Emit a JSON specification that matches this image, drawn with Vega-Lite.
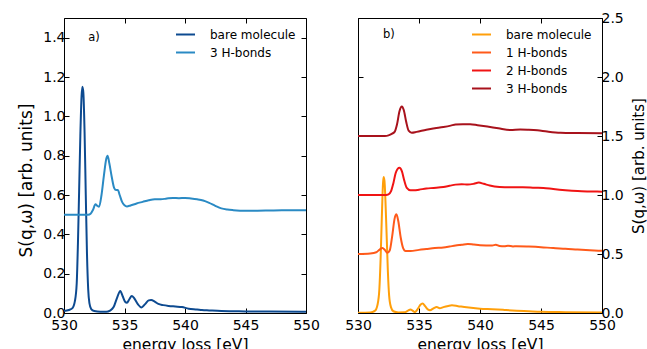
{
  "$schema": "https://vega.github.io/schema/vega-lite/v6.json",
  "padding": {"left": 17, "top": 10, "right": 5, "bottom": 0},
  "config": {
    "font": "DejaVu Sans",
    "view": {"stroke": "black", "strokeWidth": 1},
    "axis": {"domain": false, "grid": false, "tickColor": "black", "tickSize": -5, "tickWidth": 1,
      "labelColor": "black", "labelFontSize": 14, "labelFont": "DejaVu Sans", "labelFlush": false, "labelOverlap": false, "labelPadding": 4,
      "titleFontSize": 15.5, "titleFontWeight": "normal", "titleColor": "black", "titleFont": "DejaVu Sans"},
    "axisX": {"labelPadding": 10},
    "legend": {"orient": "none", "labelFontSize": 12, "labelFont": "DejaVu Sans", "labelColor": "black", "symbolType": "stroke", "symbolStrokeWidth": 2, "symbolSize": 361, "padding": 0, "rowPadding": 1, "labelOffset": 14, "title": null}
  },
  "datasets": {
    "a": [
      {"e": 530.0, "s": 0.01, "series": "bare molecule"},
      {"e": 530.4, "s": 0.015, "series": "bare molecule"},
      {"e": 530.7, "s": 0.025, "series": "bare molecule"},
      {"e": 530.9, "s": 0.06, "series": "bare molecule"},
      {"e": 531.05, "s": 0.15, "series": "bare molecule"},
      {"e": 531.15, "s": 0.35, "series": "bare molecule"},
      {"e": 531.25, "s": 0.62, "series": "bare molecule"},
      {"e": 531.35, "s": 0.9, "series": "bare molecule"},
      {"e": 531.45, "s": 1.1, "series": "bare molecule"},
      {"e": 531.52, "s": 1.15, "series": "bare molecule"},
      {"e": 531.6, "s": 1.12, "series": "bare molecule"},
      {"e": 531.7, "s": 0.92, "series": "bare molecule"},
      {"e": 531.8, "s": 0.6, "series": "bare molecule"},
      {"e": 531.9, "s": 0.3, "series": "bare molecule"},
      {"e": 532.0, "s": 0.12, "series": "bare molecule"},
      {"e": 532.1, "s": 0.05, "series": "bare molecule"},
      {"e": 532.25, "s": 0.02, "series": "bare molecule"},
      {"e": 532.5, "s": 0.01, "series": "bare molecule"},
      {"e": 533.0, "s": 0.006, "series": "bare molecule"},
      {"e": 533.5, "s": 0.006, "series": "bare molecule"},
      {"e": 533.8, "s": 0.012, "series": "bare molecule"},
      {"e": 534.1, "s": 0.03, "series": "bare molecule"},
      {"e": 534.4, "s": 0.08, "series": "bare molecule"},
      {"e": 534.65, "s": 0.112, "series": "bare molecule"},
      {"e": 534.85, "s": 0.085, "series": "bare molecule"},
      {"e": 535.05, "s": 0.057, "series": "bare molecule"},
      {"e": 535.2, "s": 0.052, "series": "bare molecule"},
      {"e": 535.4, "s": 0.07, "series": "bare molecule"},
      {"e": 535.6, "s": 0.086, "series": "bare molecule"},
      {"e": 535.8, "s": 0.075, "series": "bare molecule"},
      {"e": 536.1, "s": 0.045, "series": "bare molecule"},
      {"e": 536.4, "s": 0.028, "series": "bare molecule"},
      {"e": 536.7, "s": 0.045, "series": "bare molecule"},
      {"e": 537.0, "s": 0.064, "series": "bare molecule"},
      {"e": 537.2, "s": 0.066, "series": "bare molecule"},
      {"e": 537.5, "s": 0.058, "series": "bare molecule"},
      {"e": 537.8, "s": 0.046, "series": "bare molecule"},
      {"e": 538.2, "s": 0.04, "series": "bare molecule"},
      {"e": 538.65, "s": 0.036, "series": "bare molecule"},
      {"e": 539.2, "s": 0.033, "series": "bare molecule"},
      {"e": 539.75, "s": 0.03, "series": "bare molecule"},
      {"e": 540.3, "s": 0.022, "series": "bare molecule"},
      {"e": 541.0, "s": 0.018, "series": "bare molecule"},
      {"e": 541.4, "s": 0.015, "series": "bare molecule"},
      {"e": 542.0, "s": 0.013, "series": "bare molecule"},
      {"e": 543.0, "s": 0.01, "series": "bare molecule"},
      {"e": 544.0, "s": 0.009, "series": "bare molecule"},
      {"e": 545.0, "s": 0.008, "series": "bare molecule"},
      {"e": 547.0, "s": 0.007, "series": "bare molecule"},
      {"e": 550.0, "s": 0.006, "series": "bare molecule"},
      {"e": 530.0, "s": 0.5, "series": "3 H-bonds"},
      {"e": 531.0, "s": 0.5, "series": "3 H-bonds"},
      {"e": 532.0, "s": 0.5, "series": "3 H-bonds"},
      {"e": 532.2, "s": 0.505, "series": "3 H-bonds"},
      {"e": 532.4, "s": 0.525, "series": "3 H-bonds"},
      {"e": 532.6, "s": 0.553, "series": "3 H-bonds"},
      {"e": 532.75, "s": 0.545, "series": "3 H-bonds"},
      {"e": 532.9, "s": 0.54, "series": "3 H-bonds"},
      {"e": 533.1, "s": 0.6, "series": "3 H-bonds"},
      {"e": 533.3, "s": 0.7, "series": "3 H-bonds"},
      {"e": 533.5, "s": 0.785, "series": "3 H-bonds"},
      {"e": 533.6, "s": 0.8, "series": "3 H-bonds"},
      {"e": 533.75, "s": 0.76, "series": "3 H-bonds"},
      {"e": 533.95, "s": 0.69, "series": "3 H-bonds"},
      {"e": 534.15, "s": 0.635, "series": "3 H-bonds"},
      {"e": 534.3, "s": 0.625, "series": "3 H-bonds"},
      {"e": 534.45, "s": 0.625, "series": "3 H-bonds"},
      {"e": 534.6, "s": 0.6, "series": "3 H-bonds"},
      {"e": 534.8, "s": 0.565, "series": "3 H-bonds"},
      {"e": 535.0, "s": 0.548, "series": "3 H-bonds"},
      {"e": 535.2, "s": 0.542, "series": "3 H-bonds"},
      {"e": 535.5, "s": 0.547, "series": "3 H-bonds"},
      {"e": 536.0, "s": 0.557, "series": "3 H-bonds"},
      {"e": 536.5, "s": 0.565, "series": "3 H-bonds"},
      {"e": 537.0, "s": 0.573, "series": "3 H-bonds"},
      {"e": 537.5, "s": 0.578, "series": "3 H-bonds"},
      {"e": 538.0, "s": 0.578, "series": "3 H-bonds"},
      {"e": 538.5, "s": 0.582, "series": "3 H-bonds"},
      {"e": 539.0, "s": 0.585, "series": "3 H-bonds"},
      {"e": 539.5, "s": 0.584, "series": "3 H-bonds"},
      {"e": 540.0, "s": 0.585, "series": "3 H-bonds"},
      {"e": 540.5, "s": 0.582, "series": "3 H-bonds"},
      {"e": 541.0, "s": 0.578, "series": "3 H-bonds"},
      {"e": 541.5, "s": 0.572, "series": "3 H-bonds"},
      {"e": 542.0, "s": 0.56, "series": "3 H-bonds"},
      {"e": 542.5, "s": 0.545, "series": "3 H-bonds"},
      {"e": 543.0, "s": 0.532, "series": "3 H-bonds"},
      {"e": 543.5, "s": 0.526, "series": "3 H-bonds"},
      {"e": 544.0, "s": 0.523, "series": "3 H-bonds"},
      {"e": 545.0, "s": 0.52, "series": "3 H-bonds"},
      {"e": 546.0, "s": 0.52, "series": "3 H-bonds"},
      {"e": 547.0, "s": 0.521, "series": "3 H-bonds"},
      {"e": 548.0, "s": 0.522, "series": "3 H-bonds"},
      {"e": 550.0, "s": 0.522, "series": "3 H-bonds"}
    ],
    "b": [
      {"e": 530.0, "s": 0.003, "series": "bare molecule"},
      {"e": 531.0, "s": 0.005, "series": "bare molecule"},
      {"e": 531.4, "s": 0.02, "series": "bare molecule"},
      {"e": 531.6, "s": 0.07, "series": "bare molecule"},
      {"e": 531.75, "s": 0.2, "series": "bare molecule"},
      {"e": 531.85, "s": 0.45, "series": "bare molecule"},
      {"e": 531.95, "s": 0.8, "series": "bare molecule"},
      {"e": 532.05, "s": 1.1, "series": "bare molecule"},
      {"e": 532.1, "s": 1.153, "series": "bare molecule"},
      {"e": 532.17, "s": 1.12, "series": "bare molecule"},
      {"e": 532.25, "s": 0.95, "series": "bare molecule"},
      {"e": 532.35, "s": 0.65, "series": "bare molecule"},
      {"e": 532.45, "s": 0.35, "series": "bare molecule"},
      {"e": 532.55, "s": 0.15, "series": "bare molecule"},
      {"e": 532.7, "s": 0.05, "series": "bare molecule"},
      {"e": 532.9, "s": 0.015, "series": "bare molecule"},
      {"e": 533.3, "s": 0.005, "series": "bare molecule"},
      {"e": 533.8, "s": 0.006, "series": "bare molecule"},
      {"e": 534.1, "s": 0.02, "series": "bare molecule"},
      {"e": 534.3, "s": 0.03, "series": "bare molecule"},
      {"e": 534.5, "s": 0.018, "series": "bare molecule"},
      {"e": 534.67, "s": 0.008, "series": "bare molecule"},
      {"e": 534.9, "s": 0.035, "series": "bare molecule"},
      {"e": 535.1, "s": 0.068, "series": "bare molecule"},
      {"e": 535.3, "s": 0.08, "series": "bare molecule"},
      {"e": 535.5, "s": 0.058, "series": "bare molecule"},
      {"e": 535.75, "s": 0.028, "series": "bare molecule"},
      {"e": 535.9, "s": 0.023, "series": "bare molecule"},
      {"e": 536.2, "s": 0.04, "series": "bare molecule"},
      {"e": 536.45, "s": 0.05, "series": "bare molecule"},
      {"e": 536.7, "s": 0.04, "series": "bare molecule"},
      {"e": 537.0, "s": 0.05, "series": "bare molecule"},
      {"e": 537.4, "s": 0.06, "series": "bare molecule"},
      {"e": 537.7, "s": 0.065, "series": "bare molecule"},
      {"e": 538.2, "s": 0.058, "series": "bare molecule"},
      {"e": 538.9, "s": 0.048, "series": "bare molecule"},
      {"e": 540.0, "s": 0.037, "series": "bare molecule"},
      {"e": 541.0, "s": 0.032, "series": "bare molecule"},
      {"e": 542.0, "s": 0.026, "series": "bare molecule"},
      {"e": 543.0, "s": 0.02, "series": "bare molecule"},
      {"e": 544.0, "s": 0.015, "series": "bare molecule"},
      {"e": 545.0, "s": 0.01, "series": "bare molecule"},
      {"e": 547.0, "s": 0.007, "series": "bare molecule"},
      {"e": 550.0, "s": 0.004, "series": "bare molecule"},
      {"e": 530.0, "s": 0.5, "series": "1 H-bonds"},
      {"e": 531.0, "s": 0.505, "series": "1 H-bonds"},
      {"e": 531.5, "s": 0.515, "series": "1 H-bonds"},
      {"e": 531.8, "s": 0.54, "series": "1 H-bonds"},
      {"e": 532.0, "s": 0.55, "series": "1 H-bonds"},
      {"e": 532.2, "s": 0.535, "series": "1 H-bonds"},
      {"e": 532.4, "s": 0.51, "series": "1 H-bonds"},
      {"e": 532.6, "s": 0.53, "series": "1 H-bonds"},
      {"e": 532.8, "s": 0.65, "series": "1 H-bonds"},
      {"e": 533.0, "s": 0.8, "series": "1 H-bonds"},
      {"e": 533.15, "s": 0.836, "series": "1 H-bonds"},
      {"e": 533.3, "s": 0.78, "series": "1 H-bonds"},
      {"e": 533.5, "s": 0.64, "series": "1 H-bonds"},
      {"e": 533.7, "s": 0.55, "series": "1 H-bonds"},
      {"e": 533.9, "s": 0.525, "series": "1 H-bonds"},
      {"e": 534.3, "s": 0.525, "series": "1 H-bonds"},
      {"e": 535.0, "s": 0.535, "series": "1 H-bonds"},
      {"e": 535.6, "s": 0.542, "series": "1 H-bonds"},
      {"e": 536.3, "s": 0.55, "series": "1 H-bonds"},
      {"e": 537.0, "s": 0.555, "series": "1 H-bonds"},
      {"e": 537.5, "s": 0.563, "series": "1 H-bonds"},
      {"e": 538.0, "s": 0.572, "series": "1 H-bonds"},
      {"e": 538.5, "s": 0.578, "series": "1 H-bonds"},
      {"e": 539.0, "s": 0.585, "series": "1 H-bonds"},
      {"e": 539.5, "s": 0.58, "series": "1 H-bonds"},
      {"e": 540.0, "s": 0.575, "series": "1 H-bonds"},
      {"e": 541.0, "s": 0.572, "series": "1 H-bonds"},
      {"e": 541.3, "s": 0.578, "series": "1 H-bonds"},
      {"e": 541.6, "s": 0.568, "series": "1 H-bonds"},
      {"e": 542.0, "s": 0.566, "series": "1 H-bonds"},
      {"e": 542.3, "s": 0.57, "series": "1 H-bonds"},
      {"e": 542.7, "s": 0.564, "series": "1 H-bonds"},
      {"e": 543.0, "s": 0.566, "series": "1 H-bonds"},
      {"e": 544.0, "s": 0.563, "series": "1 H-bonds"},
      {"e": 545.0, "s": 0.558, "series": "1 H-bonds"},
      {"e": 546.0, "s": 0.55, "series": "1 H-bonds"},
      {"e": 547.0, "s": 0.545, "series": "1 H-bonds"},
      {"e": 548.0, "s": 0.538, "series": "1 H-bonds"},
      {"e": 549.0, "s": 0.532, "series": "1 H-bonds"},
      {"e": 550.0, "s": 0.527, "series": "1 H-bonds"},
      {"e": 530.0, "s": 1.0, "series": "2 H-bonds"},
      {"e": 532.3, "s": 1.0, "series": "2 H-bonds"},
      {"e": 532.5, "s": 1.005, "series": "2 H-bonds"},
      {"e": 532.7, "s": 1.03, "series": "2 H-bonds"},
      {"e": 532.9, "s": 1.1, "series": "2 H-bonds"},
      {"e": 533.1, "s": 1.19, "series": "2 H-bonds"},
      {"e": 533.4, "s": 1.23, "series": "2 H-bonds"},
      {"e": 533.6, "s": 1.2, "series": "2 H-bonds"},
      {"e": 533.8, "s": 1.12, "series": "2 H-bonds"},
      {"e": 534.0, "s": 1.06, "series": "2 H-bonds"},
      {"e": 534.3, "s": 1.04, "series": "2 H-bonds"},
      {"e": 534.6, "s": 1.04, "series": "2 H-bonds"},
      {"e": 535.0, "s": 1.045, "series": "2 H-bonds"},
      {"e": 535.6, "s": 1.055, "series": "2 H-bonds"},
      {"e": 536.2, "s": 1.06, "series": "2 H-bonds"},
      {"e": 537.0, "s": 1.068, "series": "2 H-bonds"},
      {"e": 537.5, "s": 1.078, "series": "2 H-bonds"},
      {"e": 538.0, "s": 1.088, "series": "2 H-bonds"},
      {"e": 538.5, "s": 1.092, "series": "2 H-bonds"},
      {"e": 539.0, "s": 1.088, "series": "2 H-bonds"},
      {"e": 539.5, "s": 1.095, "series": "2 H-bonds"},
      {"e": 539.9, "s": 1.105, "series": "2 H-bonds"},
      {"e": 540.3, "s": 1.095, "series": "2 H-bonds"},
      {"e": 540.8, "s": 1.08, "series": "2 H-bonds"},
      {"e": 541.6, "s": 1.068, "series": "2 H-bonds"},
      {"e": 542.5, "s": 1.065, "series": "2 H-bonds"},
      {"e": 543.5, "s": 1.066, "series": "2 H-bonds"},
      {"e": 544.5, "s": 1.062, "series": "2 H-bonds"},
      {"e": 545.2, "s": 1.06, "series": "2 H-bonds"},
      {"e": 546.0, "s": 1.05, "series": "2 H-bonds"},
      {"e": 547.0, "s": 1.04, "series": "2 H-bonds"},
      {"e": 548.0, "s": 1.033, "series": "2 H-bonds"},
      {"e": 549.0, "s": 1.03, "series": "2 H-bonds"},
      {"e": 550.0, "s": 1.028, "series": "2 H-bonds"},
      {"e": 530.0, "s": 1.5, "series": "3 H-bonds"},
      {"e": 532.2, "s": 1.5, "series": "3 H-bonds"},
      {"e": 532.5, "s": 1.505, "series": "3 H-bonds"},
      {"e": 532.8, "s": 1.52, "series": "3 H-bonds"},
      {"e": 533.0, "s": 1.535, "series": "3 H-bonds"},
      {"e": 533.2, "s": 1.6, "series": "3 H-bonds"},
      {"e": 533.4, "s": 1.71, "series": "3 H-bonds"},
      {"e": 533.6, "s": 1.75, "series": "3 H-bonds"},
      {"e": 533.75, "s": 1.72, "series": "3 H-bonds"},
      {"e": 533.95, "s": 1.62, "series": "3 H-bonds"},
      {"e": 534.15, "s": 1.545, "series": "3 H-bonds"},
      {"e": 534.4, "s": 1.528, "series": "3 H-bonds"},
      {"e": 534.8, "s": 1.535, "series": "3 H-bonds"},
      {"e": 535.6, "s": 1.553, "series": "3 H-bonds"},
      {"e": 536.3, "s": 1.565, "series": "3 H-bonds"},
      {"e": 537.0, "s": 1.576, "series": "3 H-bonds"},
      {"e": 537.6, "s": 1.588, "series": "3 H-bonds"},
      {"e": 538.0, "s": 1.598, "series": "3 H-bonds"},
      {"e": 538.6, "s": 1.6, "series": "3 H-bonds"},
      {"e": 539.2, "s": 1.6, "series": "3 H-bonds"},
      {"e": 539.8, "s": 1.592, "series": "3 H-bonds"},
      {"e": 540.6, "s": 1.58, "series": "3 H-bonds"},
      {"e": 541.5, "s": 1.565, "series": "3 H-bonds"},
      {"e": 542.5, "s": 1.55, "series": "3 H-bonds"},
      {"e": 543.3, "s": 1.556, "series": "3 H-bonds"},
      {"e": 544.0, "s": 1.553, "series": "3 H-bonds"},
      {"e": 544.7, "s": 1.548, "series": "3 H-bonds"},
      {"e": 545.5, "s": 1.538, "series": "3 H-bonds"},
      {"e": 546.6, "s": 1.528, "series": "3 H-bonds"},
      {"e": 548.0, "s": 1.525, "series": "3 H-bonds"},
      {"e": 550.0, "s": 1.523, "series": "3 H-bonds"}
    ]
  },
  "hconcat": [
    {
      "width": 242,
      "height": 295,
      "layer": [
        {
          "data": {"name": "a"},
          "mark": {"type": "line", "strokeWidth": 2, "interpolate": "monotone", "clip": true},
          "encoding": {
            "x": {"field": "e", "type": "quantitative", "scale": {"domain": [530, 550], "nice": false},
              "axis": {"orient": "bottom", "values": [530, 535, 540, 545, 550], "format": "d", "title": "energy loss [eV]", "titlePadding": 5}},
            "y": {"field": "s", "type": "quantitative", "scale": {"domain": [0, 1.5], "nice": false},
              "axis": {"orient": "left", "values": [0, 0.2, 0.4, 0.6, 0.8, 1.0, 1.2, 1.4], "format": ".1f", "title": "S(q,ω) [arb. units]", "titleFontSize": 17, "titleY": 162, "titlePadding": 7}},
            "color": {"field": "series", "type": "nominal",
              "scale": {"domain": ["bare molecule", "3 H-bonds"], "range": ["#0d4a90", "#2a8ac4"]},
              "legend": {"legendX": 111, "legendY": 6}}
          }
        },
        {
          "data": {"values": [{"label": "a)"}]},
          "mark": {"type": "text", "fontSize": 11.5, "align": "left", "baseline": "middle", "color": "black"},
          "encoding": {
            "x": {"datum": 532.0, "type": "quantitative", "axis": null},
            "y": {"datum": 1.4, "type": "quantitative", "axis": null},
            "text": {"field": "label", "type": "nominal"}
          }
        },
        {
          "mark": {"type": "point", "opacity": 0},
          "encoding": {
            "x": {"datum": 530, "type": "quantitative", "axis": {"orient": "top", "values": [530, 535, 540, 545, 550], "labels": false, "title": null}},
            "y": {"datum": 0, "type": "quantitative", "axis": {"orient": "right", "values": [0, 0.2, 0.4, 0.6, 0.8, 1.0, 1.2, 1.4], "labels": false, "title": null}}
          }
        }
      ],
      "resolve": {"axis": {"x": "independent", "y": "independent"}}
    },
    {
      "width": 244,
      "height": 295,
      "layer": [
        {
          "data": {"name": "b"},
          "mark": {"type": "line", "strokeWidth": 2, "interpolate": "monotone", "clip": true},
          "encoding": {
            "x": {"field": "e", "type": "quantitative", "scale": {"domain": [530, 550], "nice": false},
              "axis": {"orient": "bottom", "values": [530, 535, 540, 545, 550], "format": "d", "title": "energy loss [eV]", "titlePadding": 5}},
            "y": {"field": "s", "type": "quantitative", "scale": {"domain": [0, 2.5], "nice": false},
              "axis": {"orient": "right", "values": [0, 0.5, 1.0, 1.5, 2.0, 2.5], "format": ".1f", "title": "S(q,ω) [arb. units]", "titleFontSize": 15, "titleAngle": 270, "titleBaseline": "top", "titlePadding": 8}},
            "color": {"field": "series", "type": "nominal",
              "scale": {"domain": ["bare molecule", "1 H-bonds", "2 H-bonds", "3 H-bonds"], "range": ["#ff9f0a", "#ff5a1a", "#f01414", "#a8121c"]},
              "legend": {"legendX": 113, "legendY": 6}}
          }
        },
        {
          "data": {"values": [{"label": "b)"}]},
          "mark": {"type": "text", "fontSize": 11.5, "align": "left", "baseline": "middle", "color": "black"},
          "encoding": {
            "x": {"datum": 532.05, "type": "quantitative", "axis": null},
            "y": {"datum": 2.356, "type": "quantitative", "axis": null},
            "text": {"field": "label", "type": "nominal"}
          }
        },
        {
          "mark": {"type": "point", "opacity": 0},
          "encoding": {
            "x": {"datum": 530, "type": "quantitative", "axis": {"orient": "top", "values": [530, 535, 540, 545, 550], "labels": false, "title": null}},
            "y": {"datum": 0, "type": "quantitative", "axis": {"orient": "left", "values": [0, 0.5, 1.0, 1.5, 2.0, 2.5], "labels": false, "title": null}}
          }
        }
      ],
      "resolve": {"axis": {"x": "independent", "y": "independent"}}
    }
  ],
  "spacing": 24,
  "resolve": {"scale": {"color": "independent"}, "legend": {"color": "independent"}}
}
